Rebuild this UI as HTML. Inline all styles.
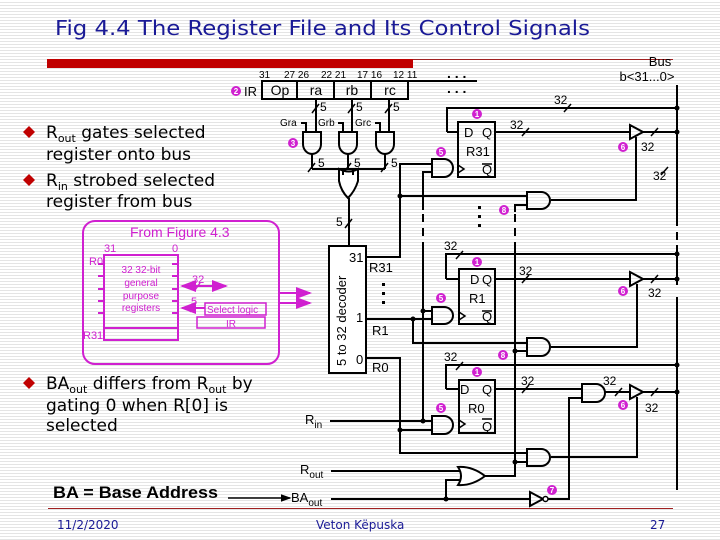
<!DOCTYPE html>
<html><head><meta charset="utf-8"><style>
html,body{margin:0;padding:0}
body{width:720px;height:540px;overflow:hidden;background:#fff repeating-linear-gradient(to bottom,#fff 0,#fff 2px,#e4e4e4 2px,#e4e4e4 3px);font-family:"Liberation Sans",sans-serif;position:relative}
svg{position:absolute;left:0;top:0}
.t{font-family:"Liberation Sans",sans-serif}
.v{font-family:"DejaVu Sans","Liberation Sans",sans-serif}
</style></head><body>
<svg width="720" height="540" viewBox="0 0 720 540" xmlns="http://www.w3.org/2000/svg" class="t">
<defs>
<marker id="ar" markerWidth="8" markerHeight="8" refX="7" refY="4" orient="auto"><path d="M0,1 L8,4 L0,7z" fill="#d020d0"/></marker>
<marker id="al" markerWidth="8" markerHeight="8" refX="1" refY="4" orient="auto"><path d="M8,1 L0,4 L8,7z" fill="#d020d0"/></marker>
<marker id="ak" markerWidth="7" markerHeight="7" refX="6" refY="3.5" orient="auto"><path d="M0,1 L7,3.5 L0,6z" fill="#000"/></marker>
</defs>
<!-- title -->
<text x="55" y="35" font-size="20" fill="#1a1a96" class="v" textLength="535" lengthAdjust="spacingAndGlyphs">Fig 4.4  The Register File and Its Control Signals</text>
<rect x="47" y="59" width="366" height="9" fill="#c00000"/>
<line x1="413" y1="59.5" x2="673" y2="59.5" stroke="#a02020" stroke-width="1"/>
<line x1="48" y1="508.5" x2="673" y2="508.5" stroke="#a02020" stroke-width="1"/>
<!-- bullets -->
<g fill="#c00000"><path d="M29,126 l6,6 l-6,6 l-6,-6z"/><path d="M29,174 l6,6 l-6,6 l-6,-6z"/><path d="M29,377 l6,6 l-6,6 l-6,-6z"/></g>
<g font-size="17" fill="#000" class="v">
<text x="46" y="138">R<tspan font-size="11" dy="4">out</tspan><tspan dy="-4"> gates selected</tspan></text>
<text x="46" y="160">register onto bus</text>
<text x="46" y="186">R<tspan font-size="11" dy="4">in</tspan><tspan dy="-4"> strobed selected</tspan></text>
<text x="46" y="207">register from bus</text>
<text x="46" y="389">BA<tspan font-size="11" dy="4">out</tspan><tspan dy="-4"> differs from R</tspan><tspan font-size="11" dy="4">out</tspan><tspan dy="-4"> by</tspan></text>
<text x="46" y="411">gating 0 when R[0] is</text>
<text x="46" y="431">selected</text>
</g>
<text x="53" y="498" font-size="17" font-weight="bold" textLength="165" lengthAdjust="spacingAndGlyphs">BA = Base Address</text>
<line x1="228" y1="498" x2="290" y2="498" stroke="#000" stroke-width="1.5" marker-end="url(#ak)"/>
<text x="291" y="502" font-size="13">BA<tspan font-size="10" dy="4">out</tspan></text>
<text x="57" y="529" font-size="12" fill="#1a1a96" class="v">11/2/2020</text>
<text x="316" y="529" font-size="12" fill="#1a1a96" class="v">Veton Këpuska</text>
<text x="650" y="529" font-size="12" fill="#1a1a96" class="v">27</text>

<!-- magenta box -->
<g stroke="#d020d0" stroke-width="2" fill="none">
<rect x="83" y="221" width="196" height="143" rx="12"/>
<rect x="104" y="255" width="74" height="85"/>
<line x1="104" y1="328" x2="178" y2="328"/>
<path d="M98,264h6M98,276h6M98,289h6M98,301h6M98,313h6M172,264h6M172,276h6M172,289h6M172,301h6M172,313h6"/>
<rect x="205" y="303" width="61" height="12" stroke-width="1.5"/>
<rect x="197" y="317" width="68" height="11" stroke-width="1.5"/>
<line x1="182" y1="286" x2="226" y2="286" marker-end="url(#ar)" marker-start="url(#al)"/>
<line x1="182" y1="308" x2="205" y2="308" marker-start="url(#al)"/>
<path d="M195,290l5,-7M190,312l5,-7" stroke-width="1.5"/>
<line x1="280" y1="293" x2="310" y2="293" marker-end="url(#ar)"/>
<line x1="280" y1="303" x2="310" y2="303" marker-end="url(#ar)"/>
</g>
<g fill="#d020d0" font-size="11">
<text x="130" y="237" font-size="14">From Figure 4.3</text>
<text x="104" y="252">31</text><text x="172" y="252">0</text>
<text x="89" y="265">R0</text><text x="83" y="339">R31</text>
<g text-anchor="middle" font-size="10"><text x="141" y="273">32 32-bit</text><text x="141" y="286">general</text><text x="141" y="299">purpose</text><text x="141" y="311">registers</text></g>
<text x="192" y="283">32</text><text x="191" y="305">5</text>
<text x="207" y="313" font-size="10">Select logic</text><text x="226" y="327" font-size="10">IR</text>
</g>

<!-- circled numbers -->
<g fill="#d020d0">
<circle cx="236" cy="91" r="5"/><circle cx="293" cy="143" r="5"/><circle cx="441" cy="152" r="5"/><circle cx="477" cy="114" r="5"/><circle cx="623" cy="147" r="5"/><circle cx="504" cy="210" r="5"/><circle cx="477" cy="262" r="5"/><circle cx="441" cy="298" r="5"/><circle cx="623" cy="291" r="5"/><circle cx="503" cy="355" r="5"/><circle cx="477" cy="372" r="5"/><circle cx="441" cy="408" r="5"/><circle cx="623" cy="405" r="5"/><circle cx="343" cy="364" r="5"/><circle cx="552" cy="490" r="5"/>
</g>
<g fill="#fff" font-size="8" text-anchor="middle" font-weight="bold">
<text x="236" y="94">2</text><text x="293" y="146">3</text><text x="441" y="155">5</text><text x="477" y="117">1</text><text x="623" y="150">6</text><text x="504" y="213">8</text><text x="477" y="265">1</text><text x="441" y="301">5</text><text x="623" y="294">6</text><text x="503" y="358">8</text><text x="477" y="375">1</text><text x="441" y="411">5</text><text x="623" y="408">6</text><text x="343" y="367">4</text><text x="552" y="493">7</text>
</g>

<!-- IR -->
<g stroke="#000" stroke-width="2" fill="none">
<rect x="262" y="81" width="146" height="18"/>
<path d="M297,81v18M334,81v18M371,81v18M408,81H477"/>
</g>
<g font-size="10"><text x="259" y="78">31</text><text x="284" y="78">27 26</text><text x="321" y="78">22 21</text><text x="357" y="78">17 16</text><text x="393" y="78">12 11</text></g>
<g font-size="14" text-anchor="middle"><text x="280" y="95">Op</text><text x="316" y="95">ra</text><text x="352" y="95">rb</text><text x="390" y="95">rc</text></g>
<text x="244" y="96" font-size="13">IR</text>
<text x="447" y="78" font-size="14" font-weight="bold">. . .</text>
<text x="447" y="93" font-size="14" font-weight="bold">. . .</text>
<text x="660" y="66" font-size="13" text-anchor="middle">Bus</text>
<text x="647" y="81" font-size="13" text-anchor="middle">b&lt;31...0&gt;</text>

<g stroke="#000" stroke-width="2" fill="none">
<path d="M316,99V133M352,99V133M389,99V133"/>
<path d="M312,113l7,-9M348,113l7,-9M385,113l7,-9" stroke-width="1.5"/>
<path d="M301,123h5v10M338,123h5v10M375,123h5v10"/>
<path d="M303,132h18v12a9,10 0 0 1 -18,0z"/>
<path d="M339,132h18v12a9,10 0 0 1 -18,0z"/>
<path d="M376,132h18v12a9,10 0 0 1 -18,0z"/>
<path d="M312,154V169M348,154V169M385,154V169M312,169H385"/>
<path d="M308,172l7,-9M344,172l7,-9M381,172l7,-9" stroke-width="1.5"/>
<path d="M339,169q10,5 19,0v12q-3,10 -10,17q-7,-7 -9,-17z" fill="#fff"/>
<path d="M343,170v5M353,170v5"/>
<path d="M349,198V246"/>
<path d="M345,228l7,-9" stroke-width="1.5"/>
<rect x="329" y="246" width="37" height="127" fill="#fff"/>
<!-- R31 -->
<path d="M366,257H400V164H432"/>
<path d="M400,196H527"/>
<path d="M432,172H423V210"/>
<path d="M447,132H458M447,132V108H677"/>
<path d="M432,159h12a9,9 0 0 1 0,18h-12z"/>
<rect x="458" y="122" width="37" height="55"/>
<path d="M458,165l6,4l-6,4" stroke-width="1.5"/>
<path d="M495,132H630M630,125V139L643,132Z M643,132H677"/>
<path d="M527,192h14a9,8.5 0 0 1 0,17h-14z"/>
<path d="M551,200H636V137"/>
<path d="M527,205H515V212"/>
<!-- dashed -->
<path d="M423,214V245M515,214V245M677,218V245" stroke-dasharray="8,6"/>
<path d="M423,245V421M515,245V476H485"/>
<!-- R1 -->
<path d="M366,319H432M413,319V343H527M432,311H423"/>
<path d="M446,279H459M446,279V254H677"/>
<path d="M432,307h12a9,8.5 0 0 1 0,17h-12z"/>
<rect x="459" y="269" width="36" height="55"/>
<path d="M459,312l6,4l-6,4" stroke-width="1.5"/>
<path d="M495,279H630M630,272V286L643,279Z M643,279H677"/>
<path d="M527,338h14a9,9 0 0 1 0,18h-14z"/>
<path d="M551,347H637V284"/>
<path d="M527,351H515"/>
<!-- R0 -->
<path d="M366,358H400V453H527M400,430H432M423,421H432"/>
<path d="M330,421H423"/>
<path d="M446,389H459M446,389V365H677"/>
<path d="M432,416h12a9,9 0 0 1 0,18h-12z"/>
<rect x="459" y="380" width="36" height="53"/>
<path d="M459,420l6,4l-6,4" stroke-width="1.5"/>
<path d="M495,389H582"/>
<path d="M582,384h14a9,9 0 0 1 0,18h-14z"/>
<path d="M605,392H630M630,385V399L643,392Z M643,392H677"/>
<path d="M582,398H569V499H548"/>
<path d="M527,449h14a9,8.5 0 0 1 0,17h-14z"/>
<path d="M551,457H637V397"/>
<path d="M527,462H515"/>
<!-- Rout OR -->
<path d="M331,471H461M331,499H530M446,499V480H461"/>
<path d="M458,467q14,-1 27,9q-13,10 -27,9q6,-9 0,-18z" fill="#fff"/>
<path d="M530,492V506L543,499Z"/>
<circle cx="545.5" cy="499" r="2.5" fill="#fff" stroke-width="1.5"/>
<!-- bus -->
<path d="M677,85V218M677,245V285M677,297V490"/>
<path d="M564,112l7,-8M522,136l7,-8M651,136l7,-8M661,175l7,-8M456,259l7,-8M522,283l7,-8M651,283l7,-8M456,370l7,-8M522,393l7,-8M615,396l7,-8M651,396l7,-8" stroke-width="1.5"/>
</g>
<g fill="#000"><circle cx="677" cy="108" r="2.5"/><circle cx="677" cy="132" r="2.5"/><circle cx="400" cy="196" r="2.5"/><circle cx="677" cy="254" r="2.5"/><circle cx="677" cy="279" r="2.5"/><circle cx="413" cy="319" r="2.5"/><circle cx="423" cy="311" r="2.5"/><circle cx="515" cy="351" r="2.5"/><circle cx="677" cy="365" r="2.5"/><circle cx="677" cy="392" r="2.5"/><circle cx="423" cy="421" r="2.5"/><circle cx="400" cy="430" r="2.5"/><circle cx="515" cy="462" r="2.5"/><circle cx="446" cy="499" r="2.5"/>
<rect x="478" y="206" width="3" height="3"/><rect x="478" y="215" width="3" height="3"/><rect x="478" y="224" width="3" height="3"/>
<rect x="382" y="283" width="3" height="3"/><rect x="382" y="292" width="3" height="3"/><rect x="382" y="301" width="3" height="3"/>
</g>
<g font-size="12">
<text x="320" y="111">5</text><text x="356" y="111">5</text><text x="393" y="111">5</text>
<text x="280" y="126" font-size="10">Gra</text><text x="318" y="126" font-size="10">Grb</text><text x="355" y="126" font-size="10">Grc</text>
<text x="318" y="167">5</text><text x="354" y="167">5</text><text x="391" y="167">5</text>
<text x="336" y="226">5</text>
<text x="464" y="137" font-size="13">D</text><text x="482" y="137" font-size="13">Q</text><text x="466" y="156" font-size="13">R31</text><text x="482" y="174" font-size="13">Q</text>
<text x="470" y="284" font-size="13">D</text><text x="482" y="284" font-size="13">Q</text><text x="469" y="303" font-size="13">R1</text><text x="482" y="321" font-size="13">Q</text>
<text x="460" y="394" font-size="13">D</text><text x="482" y="394" font-size="13">Q</text><text x="468" y="413" font-size="13">R0</text><text x="482" y="431" font-size="13">Q</text>
<text x="554" y="104">32</text><text x="510" y="129">32</text><text x="641" y="151">32</text><text x="653" y="180">32</text>
<text x="444" y="250">32</text><text x="519" y="275">32</text><text x="648" y="297">32</text>
<text x="444" y="361">32</text><text x="521" y="385">32</text><text x="603" y="385">32</text><text x="645" y="412">32</text>
<text x="349" y="262" font-size="13">31</text><text x="369" y="272" font-size="13">R31</text>
<text x="356" y="322" font-size="13">1</text><text x="372" y="335" font-size="13">R1</text>
<text x="356" y="364" font-size="13">0</text><text x="372" y="372" font-size="13">R0</text>
<text x="305" y="424" font-size="13">R<tspan font-size="10" dy="4">in</tspan></text>
<text x="300" y="474" font-size="13">R<tspan font-size="10" dy="4">out</tspan></text>
<text x="0" y="0" transform="translate(346,366) rotate(-90)" font-size="13">5 to 32 decoder</text>
</g>
<line x1="482" y1="164" x2="492" y2="164" stroke="#000" stroke-width="1.5"/>
<line x1="482" y1="311" x2="492" y2="311" stroke="#000" stroke-width="1.5"/>
<line x1="482" y1="419" x2="492" y2="419" stroke="#000" stroke-width="1.5"/>
</svg>
</body></html>
